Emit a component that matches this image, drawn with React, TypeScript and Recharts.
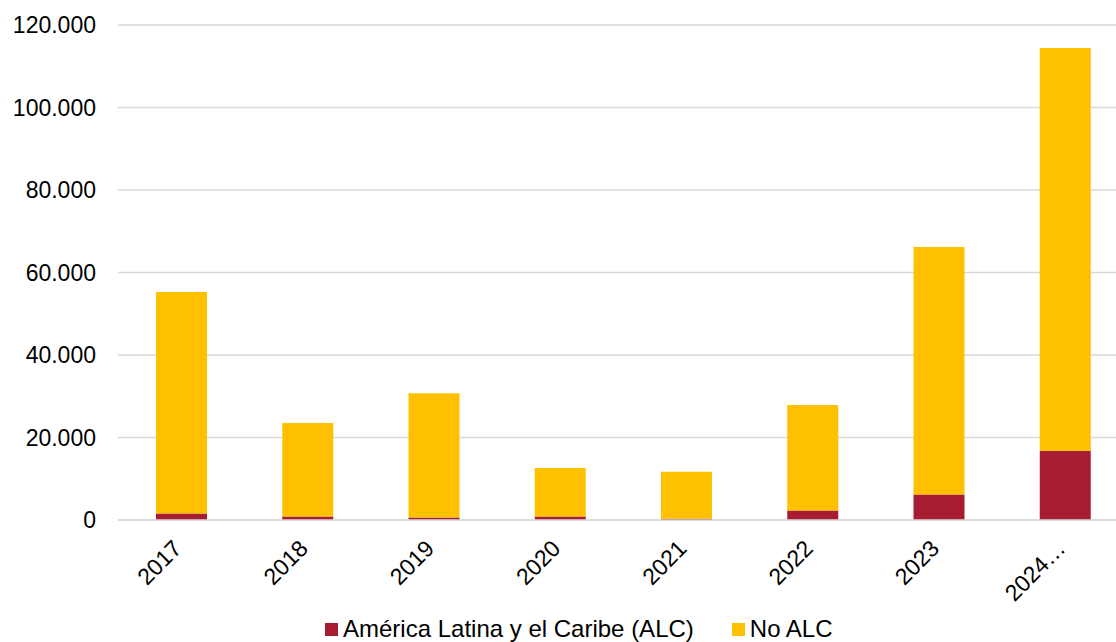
import React from "react";
import { BarChart, Bar, XAxis, YAxis, CartesianGrid, Legend } from "recharts";

// Years shown on the category axis (the last label is truncated as in the source layout)
const years = ["2017", "2018", "2019", "2020", "2021", "2022", "2023", "2024…"];

// América Latina y el Caribe (ALC)
const alcValues = [1600, 850, 600, 850, 300, 2300, 6200, 16800];

// Resto del mundo (No ALC)
const noAlcValues = [53700, 22650, 30100, 11750, 11400, 25600, 60000, 97600];

const yTicks = [0, 20000, 40000, 60000, 80000, 100000, 120000];

const seriesNames = ["América Latina y el Caribe (ALC)", "No ALC"];
const seriesColors = ["#A71C30", "#FFC000"];

const data = years.map((year, i) => ({
  year,
  alc: alcValues[i],
  noAlc: noAlcValues[i],
}));

const FONT = "'Liberation Sans', Arial, sans-serif";

const formatThousands = (v: number) =>
  v.toString().replace(/\B(?=(\d{3})+(?!\d))/g, ".");

const YearTick = (props: any) => {
  const { x, payload } = props;
  const tx = x + 2;
  const ty = 550;
  return (
    <text
      x={tx}
      y={ty}
      transform={`rotate(-45, ${tx}, ${ty})`}
      textAnchor="end"
      fontSize={23}
      fontFamily={FONT}
      fill="#000"
    >
      {payload.value}
    </text>
  );
};

const LegendContent = () => (
  <div
    style={{
      display: "flex",
      alignItems: "center",
      height: 26,
      fontFamily: FONT,
      fontSize: 24,
      color: "#000",
      whiteSpace: "nowrap",
    }}
  >
    {seriesNames.map((name, i) => (
      <div
        key={name}
        style={{ display: "flex", alignItems: "center", marginRight: i === 0 ? 38 : 0 }}
      >
        <span
          style={{
            display: "inline-block",
            width: 13,
            height: 13,
            background: seriesColors[i],
            marginRight: 5,
          }}
        />
        <span>{name}</span>
      </div>
    ))}
  </div>
);

export default function App() {
  return (
    <div
      style={{
        position: "absolute",
        left: 0,
        top: 0,
        width: 1116,
        height: 642,
        overflow: "hidden",
        background: "#fff",
      }}
    >
      <BarChart
        width={1128}
        height={642}
        data={data}
        margin={{ top: 25, right: 0, bottom: 0, left: 0 }}
        barSize={51}
      >
        <CartesianGrid horizontal vertical={false} stroke="#d9d9d9" strokeWidth={1.5} />
        <XAxis
          dataKey="year"
          height={96}
          tickLine={false}
          axisLine={{ stroke: "#d9d9d9", strokeWidth: 1.5 }}
          interval={0}
          tick={<YearTick />}
        />
        <YAxis
          width={118}
          domain={[0, 120000]}
          ticks={yTicks}
          tickFormatter={formatThousands}
          axisLine={false}
          tickLine={false}
          tickMargin={16}
          tick={{ fontSize: 23, fontFamily: FONT, fill: "#000" }}
        />
        <Legend
          verticalAlign="bottom"
          content={<LegendContent />}
          wrapperStyle={{ left: 325, bottom: 0, width: 600, height: 26 }}
        />
        <Bar dataKey="alc" name={seriesNames[0]} stackId="a" fill={seriesColors[0]} isAnimationActive={false} />
        <Bar dataKey="noAlc" name={seriesNames[1]} stackId="a" fill={seriesColors[1]} isAnimationActive={false} />
      </BarChart>
    </div>
  );
}
